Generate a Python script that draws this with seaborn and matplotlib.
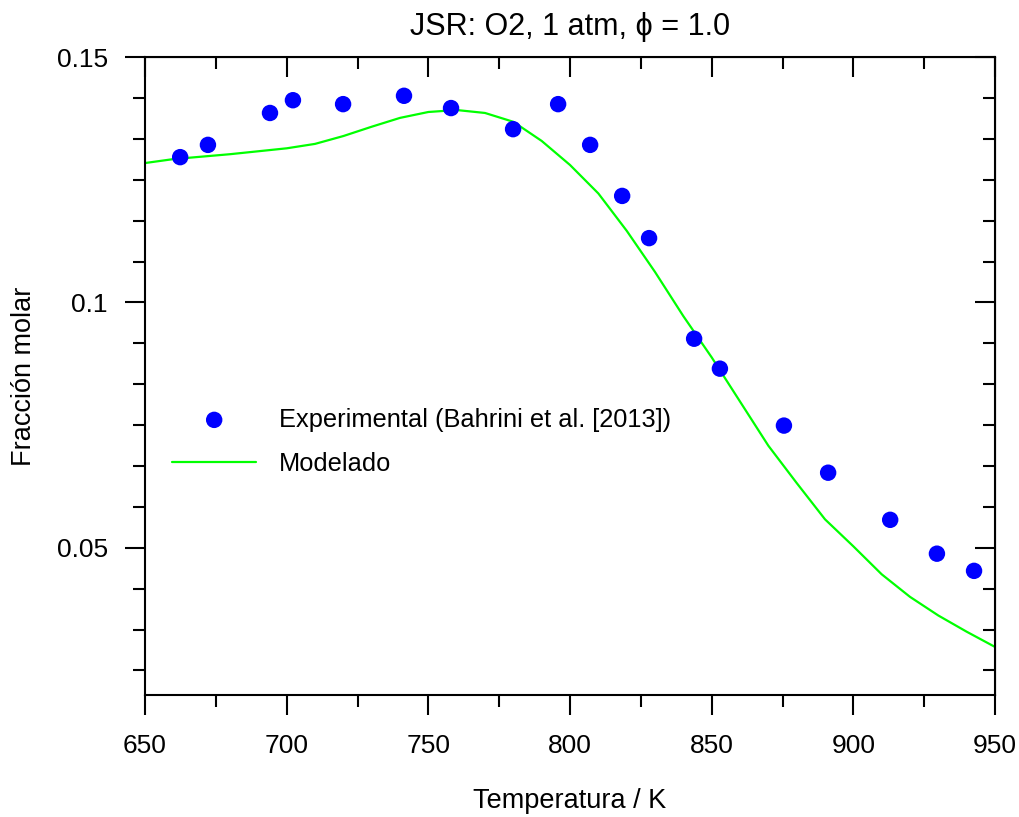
import numpy as np
import pandas as pd
import seaborn as sns
import matplotlib
matplotlib.use("Agg")
from matplotlib import pyplot as plt
from matplotlib.ticker import MultipleLocator, FixedLocator

# experimental points (Bahrini et al. 2013)
temp_exp = [662.4, 672.2, 694.1, 702.2, 719.9, 741.4, 758.0, 779.9, 795.8, 807.1,
            818.4, 827.9, 843.8, 852.9, 875.5, 891.1, 913.0, 929.5, 942.6]
o2_exp = [0.1296, 0.1321, 0.1386, 0.1412, 0.1404, 0.1421, 0.1396, 0.1353, 0.1404, 0.1321,
          0.1217, 0.1131, 0.0926, 0.0865, 0.0749, 0.0653, 0.0557, 0.0488, 0.0453]

# model curve
temp_mod = [650, 660, 670, 680, 690, 700, 710, 720, 730, 740, 750, 760, 770, 780, 790,
            800, 810, 820, 830, 840, 850, 860, 870, 880, 890, 900, 910, 920, 930, 940, 950]
o2_mod = [0.1284, 0.1292, 0.1297, 0.1302, 0.1308, 0.1314, 0.1323, 0.1339, 0.1358, 0.1376,
          0.1388, 0.1392, 0.1386, 0.1368, 0.1329, 0.1280, 0.1222, 0.1146, 0.1062, 0.0972,
          0.0888, 0.0798, 0.0708, 0.0632, 0.0558, 0.0503, 0.0446, 0.0400, 0.0362, 0.0329, 0.0298]

df_exp = pd.DataFrame({"T": temp_exp, "x": o2_exp})
df_mod = pd.DataFrame({"T": temp_mod, "x": o2_mod})

sns.set_style("ticks")
plt.rcParams['font.family'] = ['Liberation Sans', 'DejaVu Sans']
plt.rcParams['font.size'] = 19
for k in ["text.color", "axes.labelcolor", "xtick.color", "ytick.color", "axes.edgecolor"]:
    plt.rcParams[k] = "black"

fig = plt.figure(figsize=(10.2, 8.17), dpi=100)
ax = fig.add_axes([0.1422, 0.1493, 0.8333, 0.7809])

sns.lineplot(data=df_mod, x="T", y="x", ax=ax, color="#00ff00", linewidth=1.6,
             label="Modelado", zorder=2)
sns.scatterplot(data=df_exp, x="T", y="x", ax=ax, color="#0000ff", s=140,
                edgecolor="none", label="Experimental (Bahrini et al. [2013])", zorder=3)

ax.set_xlim(650, 950)
ax.set_ylim(0.02, 0.15)

yminor = 0.05 / 6
ax.xaxis.set_major_locator(MultipleLocator(50))
ax.xaxis.set_minor_locator(MultipleLocator(25))
ax.yaxis.set_major_locator(FixedLocator([0.05, 0.1, 0.15]))
ax.yaxis.set_minor_locator(MultipleLocator(yminor))
ax.set_yticklabels(["0.05", "0.1", "0.15"])

for sp in ax.spines.values():
    sp.set_visible(True)
    sp.set_linewidth(1.5)
    sp.set_color("black")

ax.tick_params(which="major", direction="out", length=14.4, width=1.5, labelsize=19)
ax.tick_params(which="minor", direction="out", length=8.6, width=1.5)
ax.tick_params(axis="x", which="major", pad=14)
ax.tick_params(axis="y", which="major", pad=12.5)

# mirrored ticks pointing inward on top and right
top = ax.secondary_xaxis("top")
top.xaxis.set_major_locator(MultipleLocator(50))
top.xaxis.set_minor_locator(MultipleLocator(25))
top.tick_params(which="major", direction="in", length=14.4, width=1.5, labeltop=False)
top.tick_params(which="minor", direction="in", length=8.6, width=1.5)
right = ax.secondary_yaxis("right")
right.yaxis.set_major_locator(FixedLocator([0.05, 0.1, 0.15]))
right.yaxis.set_minor_locator(MultipleLocator(yminor))
right.tick_params(which="major", direction="in", length=14.4, width=1.5, labelright=False)
right.tick_params(which="minor", direction="in", length=8.6, width=1.5)

ax.set_xlabel("Temperatura / K", fontsize=19.5, labelpad=21)
ax.set_ylabel("Fracción molar", fontsize=19.5, labelpad=14)
ax.set_title("JSR: O2, 1 atm, ϕ = 1.0", fontsize=22, pad=16)

handles, labels = ax.get_legend_handles_labels()
ax.legend(handles[::-1], labels[::-1], loc="upper left", bbox_to_anchor=(0.032, 0.4506),
          frameon=False, borderpad=0, borderaxespad=0, handlelength=3.3,
          handletextpad=0.9, labelspacing=0.8, fontsize=18.3, markerscale=1.0)

fig.savefig("out.png", dpi=100)
